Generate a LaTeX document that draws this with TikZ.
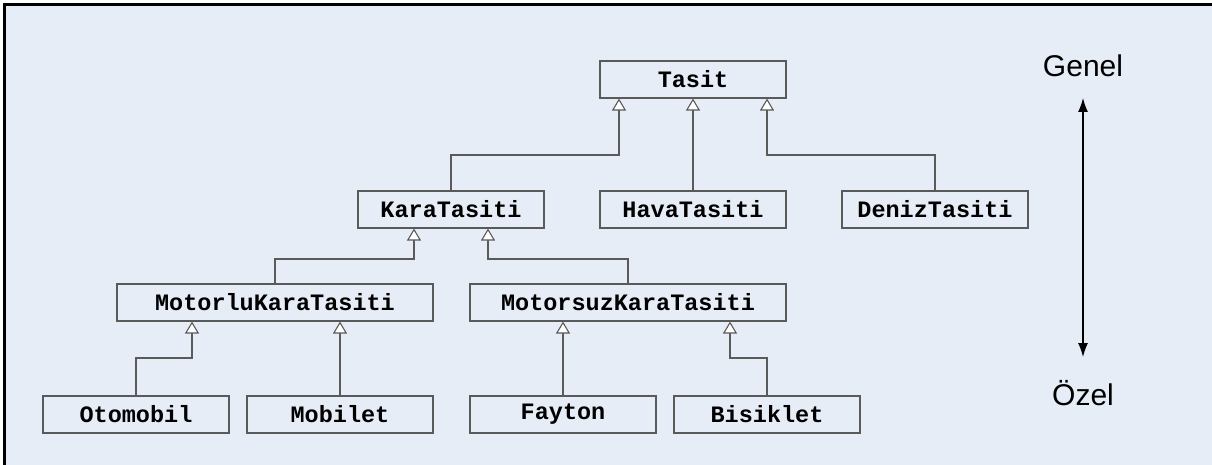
\documentclass[tikz,border=0pt]{standalone}
\usepackage{fontspec}
\setmainfont{Liberation Sans}
\newfontfamily\codefont{Liberation Mono}
\usetikzlibrary{arrows.meta}
\definecolor{bg}{HTML}{E7EDF7}
\definecolor{linegray}{HTML}{5A5A5A}
\begin{document}
\begin{tikzpicture}[x=1pt,y=-1pt,
  cls/.style={draw=linegray, fill=bg, line width=1.1pt, minimum width=186pt,
    minimum height=37pt, inner sep=0pt,
    font=\codefont\bfseries\fontsize{23.5}{24}\selectfont},
  wide/.style={minimum width=316pt},
  inh/.style={draw=linegray, line width=1.1pt,
    -{Triangle[open, length=12pt, width=14pt, fill=white]}},
  side/.style={font=\fontsize{30}{32}\selectfont, inner sep=0pt, anchor=base}]
% page and frame
\useasboundingbox (0,0) rectangle (1212,465);
\fill[white] (0,0) rectangle (1212,465);
\fill[bg] (3,3) rectangle (1212,465);
\fill[black] (3,3) rectangle (6,465);
\fill[black] (3,3) rectangle (1212,6);

% classes
\node[cls] (tasit) at (693,79.5) {Tasit};
\node[cls] (kara)  at (451,209.5) {KaraTasiti};
\node[cls] (hava)  at (693,209.5) {HavaTasiti};
\node[cls] (deniz) at (935,209.5) {DenizTasiti};
\node[cls,wide] (motorlu)  at (275,302.5) {MotorluKaraTasiti};
\node[cls,wide] (motorsuz) at (628,302.5) {MotorsuzKaraTasiti};
\node[cls] (otomobil) at (136,414.5) {Otomobil};
\node[cls] (mobilet)  at (340,414.5) {Mobilet};
\node[cls] (fayton)   at (563,414.5) {Fayton};
\node[cls] (bisiklet) at (767,414.5) {Bisiklet};

% inheritance connectors
\draw[inh] (kara.north) |- (619,155) -- ([xshift=-74pt]tasit.south);
\draw[inh] (hava.north) -- (tasit.south);
\draw[inh] (deniz.north) |- (767,155) -- ([xshift=74pt]tasit.south);

\draw[inh] (motorlu.north) |- (414,259) -- ([xshift=-37pt]kara.south);
\draw[inh] (motorsuz.north) |- (488,259) -- ([xshift=37pt]kara.south);

\draw[inh] (otomobil.north) |- (192,358) -- ([xshift=-83pt]motorlu.south);
\draw[inh] (mobilet.north) -- (motorlu.south -| mobilet.north);
\draw[inh] (fayton.north) -- (motorsuz.south -| fayton.north);
\draw[inh] (bisiklet.north) |- (730,358) -- ([xshift=102pt]motorsuz.south);

% generality scale
\node[side] (genel) at (1083,77) {Genel};
\node[side] (ozel)  at (1083,405) {Özel};
\coordinate (gtip) at (1083,98);
\coordinate (otip) at (1083,357);
\draw[line width=1.3pt, {Latex[length=14pt,width=10pt]}-{Latex[length=14pt,width=10pt]}] (gtip) -- (otip);
\end{tikzpicture}
\end{document}
